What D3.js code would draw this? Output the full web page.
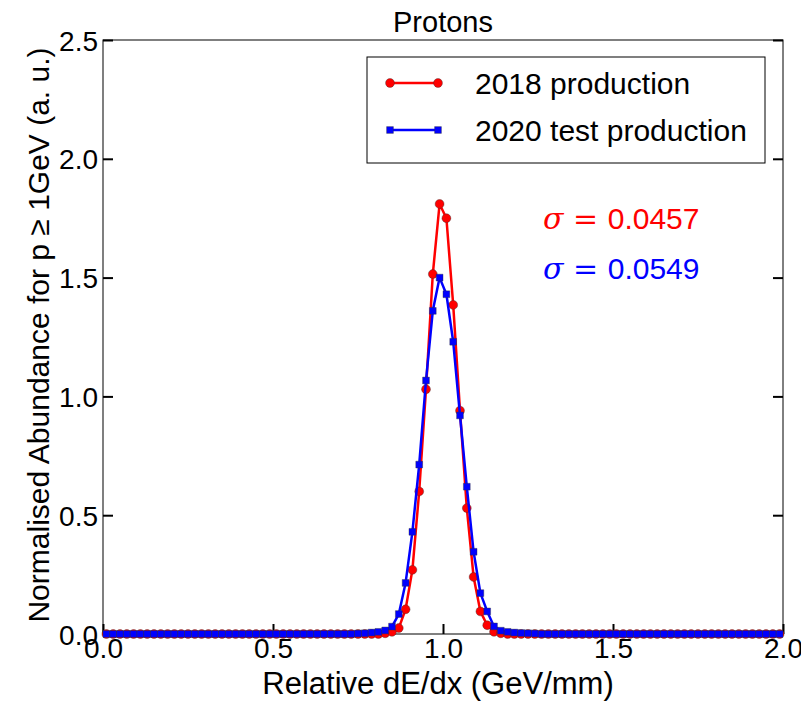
<!DOCTYPE html>
<html>
<head>
<meta charset="utf-8">
<script src="https://cdn.jsdelivr.net/npm/d3@7"></script>
<style>
  html, body { margin: 0; padding: 0; background: #fff; }
  svg { display: block; }
  text { font-family: "Liberation Sans", Arial, sans-serif; fill: #000; }
</style>
</head>
<body>
<div id="chart"></div>
<script>
// Relative dE/dx histograms for protons (p >= 1 GeV), bin width 0.02
const binCenters = d3.range(100).map(i => +(0.01 + 0.02 * i).toFixed(2));

// Non-empty bins, keyed by bin centre
const prod2018 = {
  0.83: 0.003, 0.85: 0.009, 0.87: 0.025, 0.89: 0.104, 0.91: 0.27, 0.93: 0.60,
  0.95: 1.03, 0.97: 1.515, 0.99: 1.81, 1.01: 1.75, 1.03: 1.385, 1.05: 0.94,
  1.07: 0.53, 1.09: 0.24, 1.11: 0.095, 1.13: 0.037, 1.15: 0.009, 1.17: 0.003
};
const prod2020 = {
  0.75: 0.002, 0.77: 0.003, 0.79: 0.006, 0.81: 0.009, 0.83: 0.015, 0.85: 0.031,
  0.87: 0.084, 0.89: 0.215, 0.91: 0.43, 0.93: 0.713, 0.95: 1.067, 0.97: 1.36,
  0.99: 1.50, 1.01: 1.43, 1.03: 1.23, 1.05: 0.92, 1.07: 0.62, 1.09: 0.346,
  1.11: 0.172, 1.13: 0.095, 1.15: 0.032, 1.17: 0.014, 1.19: 0.009, 1.21: 0.006,
  1.23: 0.004, 1.25: 0.003, 1.27: 0.002
};

const seriesNames = ["2018 production", "2020 test production"];
const seriesColors = ["#ff0000", "#0000ff"];
const sigmaValues = ["0.0457", "0.0549"];
const xTicks = [0.0, 0.5, 1.0, 1.5, 2.0];
const yTicks = [0.0, 0.5, 1.0, 1.5, 2.0, 2.5];

const series = [prod2018, prod2020].map(obj =>
  binCenters.map(x => ({ x, y: obj[x] !== undefined ? obj[x] : 0 })));

const W = 801, H = 701;
const margin = { left: 103, right: 18, top: 40, bottom: 67 };
const iw = W - margin.left - margin.right;
const ih = H - margin.top - margin.bottom;

const svg = d3.select("#chart").append("svg")
  .attr("width", W).attr("height", H);

const x = d3.scaleLinear().domain([0, 2]).range([0, iw]);
const y = d3.scaleLinear().domain([0, 2.5]).range([ih, 0]);

const g = svg.append("g").attr("transform", `translate(${margin.left},${margin.top})`);

// Frame
g.append("rect").attr("x", 0).attr("y", 0).attr("width", iw).attr("height", ih)
  .attr("fill", "none").attr("stroke", "#000").attr("stroke-width", 1);

// Axes with inward ticks
const tickFont = "28px";
const xAxis = g.append("g").attr("transform", `translate(0,${ih})`)
  .call(d3.axisBottom(x).tickValues(xTicks).tickFormat(d3.format(".1f"))
    .tickSizeInner(-10).tickSizeOuter(0).tickPadding(4));
const yAxis = g.append("g")
  .call(d3.axisLeft(y).tickValues(yTicks).tickFormat(d3.format(".1f"))
    .tickSizeInner(-10).tickSizeOuter(0).tickPadding(5));
const yAxisR = g.append("g").attr("transform", `translate(${iw},0)`)
  .call(d3.axisRight(y).tickValues(yTicks).tickFormat("")
    .tickSizeInner(-10).tickSizeOuter(0));
[xAxis, yAxis, yAxisR].forEach(a => {
  a.select(".domain").remove();
  a.selectAll(".tick line").attr("stroke", "#000").attr("stroke-width", 2);
  a.selectAll("text").style("font-size", tickFont)
    .style("font-family", "'Liberation Sans', Arial, sans-serif").attr("fill", "#000");
});
yAxis.selectAll("text").attr("dy", "0.36em");

// Curves: 2018 below, 2020 drawn on top
const line = d3.line().x(d => x(d.x)).y(d => y(d.y));
const symbols = [d3.symbolCircle, d3.symbolSquare];
const symSizes = [62, 46];
series.forEach((data, i) => {
  const sg = g.append("g");
  sg.append("path").datum(data).attr("d", line)
    .attr("fill", "none").attr("stroke", seriesColors[i]).attr("stroke-width", 2.5)
    .attr("stroke-linejoin", "round");
  sg.selectAll("path.m").data(data).join("path").attr("class", "m")
    .attr("transform", d => `translate(${x(d.x)},${y(d.y)})`)
    .attr("d", d3.symbol(symbols[i], symSizes[i]))
    .attr("fill", seriesColors[i]).attr("stroke", "#333").attr("stroke-width", 0.4);
});

// Title and axis labels
svg.append("text").attr("x", margin.left + iw / 2).attr("y", 32)
  .attr("text-anchor", "middle").style("font-size", "29px").text("Protons");
svg.append("text").attr("x", margin.left + iw / 2 - 5).attr("y", 694)
  .attr("text-anchor", "middle").style("font-size", "31px")
  .text("Relative dE/dx (GeV/mm)");
svg.append("text")
  .attr("transform", `translate(49,${margin.top + ih / 2 - 2}) rotate(-90)`)
  .attr("text-anchor", "middle").style("font-size", "30px")
  .text("Normalised Abundance for p \u2265 1GeV (a. u.)");

// Sigma annotations
sigmaValues.forEach((v, i) => {
  const t = svg.append("text").attr("x", 543).attr("y", 229 + i * 50)
    .attr("fill", seriesColors[i]).style("fill", seriesColors[i]).style("font-size", "30px");
  t.append("tspan").style("font-family", "'DejaVu Serif', 'Liberation Serif', serif")
    .style("font-style", "italic").text("\u03c3");
  t.append("tspan").style("font-family", "'DejaVu Serif', 'Liberation Serif', serif")
    .text(" = ");
  t.append("tspan").text(v);
});

// Legend
const lg = svg.append("g");
lg.append("rect").attr("x", 367).attr("y", 57).attr("width", 398).attr("height", 106)
  .attr("fill", "#fff").attr("stroke", "#000").attr("stroke-width", 1);
seriesNames.forEach((name, i) => {
  const ly = 83 + i * 47;
  lg.append("line").attr("x1", 390).attr("x2", 438).attr("y1", ly).attr("y2", ly)
    .attr("stroke", seriesColors[i]).attr("stroke-width", 2.5);
  [390, 438].forEach(px => {
    lg.append("path").attr("transform", `translate(${px},${ly})`)
      .attr("d", d3.symbol(symbols[i], symSizes[i]))
      .attr("fill", seriesColors[i]).attr("stroke", "#333").attr("stroke-width", 0.4);
  });
  lg.append("text").attr("x", 475).attr("y", ly + 11).style("font-size", "30px").text(name);
});
</script>
</body>
</html>
